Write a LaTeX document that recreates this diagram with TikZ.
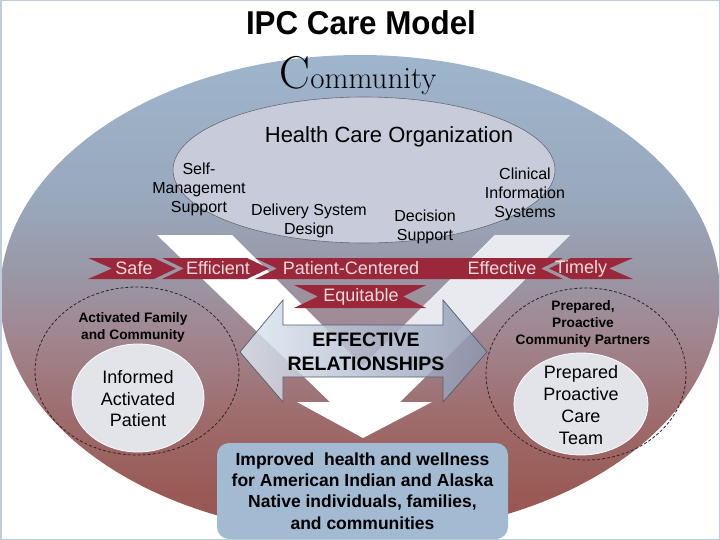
\documentclass[tikz,border=0pt]{standalone}
\usepackage{fontspec}
\usepackage{graphicx}
\setsansfont{Liberation Sans}
\usetikzlibrary{shapes.geometric}
\definecolor{framec}{RGB}{190,205,220}
\definecolor{hcofill}{RGB}{200,204,218}
\definecolor{hcoline}{RGB}{105,105,118}
\definecolor{ribbon}{RGB}{155,40,58}
\definecolor{ribtext}{RGB}{240,218,222}
\definecolor{innerfill}{RGB}{226,228,234}
\definecolor{boxfill}{RGB}{162,186,210}
\definecolor{arrL}{RGB}{222,232,242}
\definecolor{arrR}{RGB}{140,150,176}
\definecolor{arrline}{RGB}{85,92,112}
\definecolor{dashc}{RGB}{45,35,40}
\definecolor{armgray}{RGB}{232,234,240}
\pgfdeclareverticalshading{commshade}{100bp}{%
  rgb(0bp)=(0.59,0.33,0.31);
  rgb(25bp)=(0.59,0.33,0.31);
  rgb(29bp)=(0.60,0.35,0.33);
  rgb(37bp)=(0.62,0.42,0.42);
  rgb(46bp)=(0.63,0.53,0.57);
  rgb(53bp)=(0.60,0.60,0.66);
  rgb(60bp)=(0.60,0.66,0.74);
  rgb(75bp)=(0.62,0.71,0.80);
  rgb(100bp)=(0.62,0.71,0.80)}
\tikzset{
  lab/.style={align=center, inner sep=0pt, text=black},
  riblab/.style={inner sep=0pt, text=ribtext, font=\sffamily\fontsize{18}{18}\selectfont},
  ribshape/.style={fill=ribbon},
  ring/.style={ellipse, draw=dashc, dash pattern=on 3pt off 2pt, line width=0.8pt, inner sep=0pt},
  core/.style={ellipse, fill=innerfill, draw=white, line width=0.8pt, inner sep=0pt},
}
\begin{document}
\begin{tikzpicture}[x=1pt,y=-1pt]
\useasboundingbox (0,0) rectangle (720,540);
\fill[white] (0,0) rectangle (720,540);
% outer community shape
\shade[shading=commshade] (360,295) ellipse [x radius=360, y radius=240];
\draw[framec, line width=1.5pt] (0.75,0.75) rectangle (719.25,539.25);
% title
\node[lab, font=\sffamily\bfseries\fontsize{33}{33}\selectfont] (title) at (361,23) {\scalebox{0.95}[1]{IPC Care Model}};
\node[lab, font=\rmfamily] (community) at (358,76) {{\fontsize{46}{46}\selectfont C}{\fontsize{31}{31}\selectfont ommunity}};
% health care organization
\node[ellipse, fill=hcofill, draw=hcoline, line width=0.6pt, minimum width=382pt, minimum height=146pt, inner sep=0pt] (hco) at (364,170) {};
\node[lab, font=\sffamily\fontsize{22}{22}\selectfont] (hcot) at (389,137) {Health Care Organization};
\node[lab, font=\sffamily\fontsize{16}{19}\selectfont] (selfm) at (199,189) {Self-\\Management\\Support};
\node[lab, font=\sffamily\fontsize{16}{19}\selectfont] (dsd) at (309,221) {Delivery System\\Design};
\node[lab, font=\sffamily\fontsize{16}{19}\selectfont] (dec) at (425,227) {Decision\\Support};
\node[lab, font=\sffamily\fontsize{16}{19}\selectfont] (cis) at (525,194) {Clinical\\Information\\Systems};
% white V arrow
\fill[white] (157,235) -- (232,235) -- (363,366) -- (495,235) -- (570,235) -- (400,402) -- (432,402) -- (363,438) -- (297,402) -- (330,402) -- cycle;
\fill[armgray] (363,366) -- (495,235) -- (570,235) -- (436,368) -- cycle;
% ribbons
\fill[ribshape] (88,258) -- (154,258) -- (176,268.5) -- (154,279) -- (88,279) -- (112,268.5) -- cycle;
\fill[ribshape] (162,258) -- (247,258) -- (269,268.5) -- (247,279) -- (162,279) -- (184,268.5) -- cycle;
\fill[ribshape] (255,258) -- (478,258) -- (456,268.5) -- (478,279) -- (255,279) -- (277,268.5) -- cycle;
\fill[ribshape] (448,268.5) -- (470,258) -- (563,258) -- (541,268.5) -- (563,279) -- (470,279) -- cycle;
\fill[ribshape] (549,268.5) -- (571,258) -- (633,258) -- (609,268.5) -- (633,279) -- (571,279) -- cycle;
\fill[ribshape] (294,285) -- (426,285) -- (403,296.5) -- (426,308) -- (294,308) -- (318,296.5) -- cycle;
\node[riblab] (safe) at (134,268.5) {Safe};
\node[riblab] (efficient) at (218,268.5) {Efficient};
\node[riblab] (pc) at (351,268.5) {Patient-Centered};
\node[riblab] (effective) at (502,268.5) {Effective};
\node[riblab] (timely) at (581,268.5) {Timely};
\node[riblab] (equitable) at (361,296.5) {Equitable};
% double arrow
\shade[left color=arrL, right color=arrR, fill opacity=0.82] (240,352) -- (283,300) -- (283,325) -- (443,325) -- (443,300) -- (487,352) -- (443,402) -- (443,377) -- (283,377) -- (283,402) -- cycle;
\draw[arrline, line width=0.7pt] (240,352) -- (283,300) -- (283,325) -- (443,325) -- (443,300) -- (487,352) -- (443,402) -- (443,377) -- (283,377) -- (283,402) -- cycle;
\node[lab, font=\sffamily\bfseries\fontsize{19.5}{24}\selectfont] (rel) at (366,352) {EFFECTIVE\\RELATIONSHIPS};
% left circles
\node[ring, minimum width=204pt, minimum height=168pt] (famring) at (137,371) {};
\node[lab, font=\sffamily\bfseries\fontsize{13.7}{17}\selectfont] (famt) at (133,327) {Activated Family\\and Community};
\node[core, minimum width=132pt, minimum height=108pt] (patient) at (138,398) {};
\node[lab, font=\sffamily\fontsize{18}{21.5}\selectfont] (patt) at (138,399) {Informed\\Activated\\Patient};
% right circles
\node[ring, minimum width=200pt, minimum height=172pt] (partring) at (586,374) {};
\node[lab, font=\sffamily\bfseries\fontsize{13.7}{17}\selectfont] (partt) at (583,324) {Prepared,\\Proactive\\Community Partners};
\node[core, minimum width=134pt, minimum height=102pt] (team) at (581,404) {};
\node[lab, font=\sffamily\fontsize{18}{21.8}\selectfont] (teamt) at (581,405) {Prepared\\Proactive\\Care\\Team};
% outcome box
\node[fill=boxfill, rounded corners=12pt, minimum width=291pt, minimum height=96pt, inner sep=0pt, align=center, font=\sffamily\bfseries\fontsize{17.5}{21.3}\selectfont] (outcome) at (362.5,491) {Improved\ \ health and wellness\\for American Indian and Alaska\\Native individuals, families,\\and communities};
\end{tikzpicture}
\end{document}
